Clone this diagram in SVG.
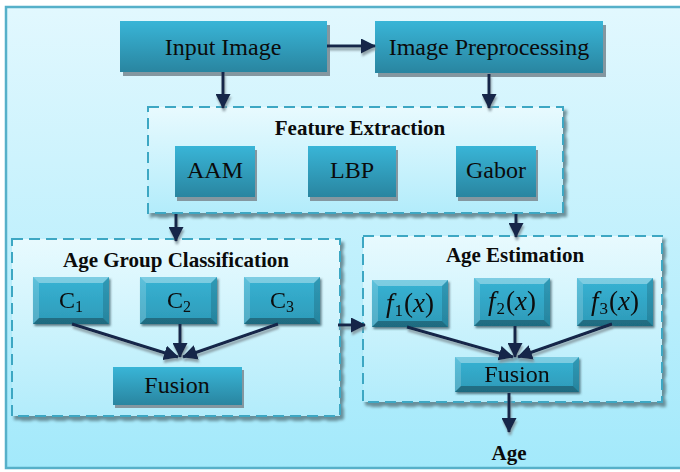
<svg xmlns="http://www.w3.org/2000/svg" width="680" height="472" viewBox="0 0 680 472">
  <defs>
    <linearGradient id="bgGrad" x1="0" y1="0" x2="0" y2="1">
      <stop offset="0" stop-color="#e2f8fe"/>
      <stop offset="1" stop-color="#a3e9fb"/>
    </linearGradient>
    <linearGradient id="groupGrad" x1="0" y1="0" x2="0" y2="1">
      <stop offset="0" stop-color="#e8fafe"/>
      <stop offset="1" stop-color="#b2ecfb"/>
    </linearGradient>
    <linearGradient id="boxGrad" x1="0" y1="0" x2="0" y2="1">
      <stop offset="0" stop-color="#39b5d7"/>
      <stop offset="1" stop-color="#2985a0"/>
    </linearGradient>
    <linearGradient id="bevelGrad" x1="0" y1="0" x2="0" y2="1">
      <stop offset="0" stop-color="#38b3d4"/>
      <stop offset="1" stop-color="#2d9ab8"/>
    </linearGradient>
    <filter id="groupShadow" x="-5%" y="-5%" width="115%" height="115%">
      <feDropShadow dx="3" dy="4" stdDeviation="1.5" flood-color="#5b7f88" flood-opacity="0.85"/>
    </filter>
    <filter id="bevelShadow" x="-10%" y="-10%" width="125%" height="130%">
      <feDropShadow dx="1.5" dy="2" stdDeviation="1.2" flood-color="#2c4a55" flood-opacity="0.7"/>
    </filter>
    <filter id="lineShadow" x="-20%" y="-20%" width="140%" height="140%">
      <feDropShadow dx="1" dy="3" stdDeviation="0.8" flood-color="#7d8e96" flood-opacity="0.8"/>
    </filter>
    <marker id="arrow" markerUnits="userSpaceOnUse" markerWidth="15" markerHeight="15" viewBox="0 0 15 15" refX="14" refY="7.5" orient="auto">
      <path d="M0,0 L15,7.5 L0,15 z" fill="#13284a"/>
    </marker>
  </defs>
  <style>
    .label { font-family: "Liberation Serif", "Times New Roman", serif; font-size: 24px; fill: #0b0b0b; text-anchor: middle; }
    .math { font-family: "Liberation Serif", "Times New Roman", serif; font-size: 27px; fill: #0b0b0b; text-anchor: middle; }
    .title { font-family: "Liberation Serif", "Times New Roman", serif; font-size: 21px; font-weight: bold; fill: #0b0b0b; text-anchor: middle; }
    .flat { fill: url(#boxGrad); }
    .flatShadow { fill: #8497a0; }
    .group { fill: url(#groupGrad); stroke: #3ea7c3; stroke-width: 2; stroke-dasharray: 11 6; filter: url(#groupShadow); }
    .bevel { fill: url(#bevelGrad); }
    .bt { fill: #ffffff; fill-opacity: 0.35; }
    .bl { fill: #ffffff; fill-opacity: 0.18; }
    .br { fill: #000000; fill-opacity: 0.14; }
    .bb { fill: #000000; fill-opacity: 0.3; }
    .conn { stroke: #13284a; stroke-width: 3; fill: none; marker-end: url(#arrow); }
  </style>

  <!-- background frame -->
  <rect x="0" y="0" width="680" height="472" fill="#ffffff"/>
  <rect x="6" y="7" width="680" height="461" fill="url(#bgGrad)" stroke="#56b0c9" stroke-width="2.5"/>

  <!-- dashed group panels -->
  <g id="feature-extraction">
    <rect class="group" x="148" y="107" width="415" height="106"/>
    <text class="title" x="360" y="135">Feature Extraction</text>
  </g>
  <g id="age-group-classification">
    <rect class="group" x="12" y="239" width="328" height="177"/>
    <text class="title" x="176" y="267">Age Group Classification</text>
  </g>
  <g id="age-estimation">
    <rect class="group" x="363" y="236" width="299" height="166"/>
    <text class="title" x="515" y="262">Age Estimation</text>
  </g>

  <!-- flat boxes -->
  <g id="input-image">
    <rect class="flatShadow" x="123" y="25" width="207" height="51"/>
    <rect class="flat" x="120" y="21" width="207" height="51"/>
    <text class="label" x="223" y="55">Input Image</text>
  </g>
  <g id="image-preprocessing">
    <rect class="flatShadow" x="378" y="25" width="228" height="52"/>
    <rect class="flat" x="375" y="21" width="228" height="52"/>
    <text class="label" x="489" y="55">Image Preprocessing</text>
  </g>
  <g id="aam">
    <rect class="flatShadow" x="177" y="150" width="80" height="51"/>
    <rect class="flat" x="175" y="146" width="80" height="51"/>
    <text class="label" x="215" y="178">AAM</text>
  </g>
  <g id="lbp">
    <rect class="flatShadow" x="310" y="150" width="88" height="51"/>
    <rect class="flat" x="308" y="146" width="88" height="51"/>
    <text class="label" x="352" y="178">LBP</text>
  </g>
  <g id="gabor">
    <rect class="flatShadow" x="458" y="150" width="80" height="51"/>
    <rect class="flat" x="456" y="146" width="80" height="51"/>
    <text class="label" x="496" y="178">Gabor</text>
  </g>
  <g id="fusion-left">
    <rect class="flatShadow" x="115" y="370" width="129" height="38"/>
    <rect class="flat" x="113" y="367" width="129" height="38"/>
    <text class="label" x="177" y="393">Fusion</text>
  </g>

  <!-- bevelled boxes -->
  <g id="c1" filter="url(#bevelShadow)">
    <rect class="bevel" x="33" y="277" width="76" height="47"/>
    <polygon class="bt" points="33,277 109,277 103,283 39,283"/>
    <polygon class="bl" points="33,277 39,283 39,318 33,324"/>
    <polygon class="br" points="109,277 109,324 103,318 103,283"/>
    <polygon class="bb" points="33,324 39,318 103,318 109,324"/>
    <text class="label" x="71" y="308">C<tspan font-size="16" dy="4">1</tspan></text>
  </g>
  <g id="c2" filter="url(#bevelShadow)">
    <rect class="bevel" x="140" y="277" width="77" height="47"/>
    <polygon class="bt" points="140,277 217,277 211,283 146,283"/>
    <polygon class="bl" points="140,277 146,283 146,318 140,324"/>
    <polygon class="br" points="217,277 217,324 211,318 211,283"/>
    <polygon class="bb" points="140,324 146,318 211,318 217,324"/>
    <text class="label" x="179" y="308">C<tspan font-size="16" dy="4">2</tspan></text>
  </g>
  <g id="c3" filter="url(#bevelShadow)">
    <rect class="bevel" x="244" y="277" width="76" height="47"/>
    <polygon class="bt" points="244,277 320,277 314,283 250,283"/>
    <polygon class="bl" points="244,277 250,283 250,318 244,324"/>
    <polygon class="br" points="320,277 320,324 314,318 314,283"/>
    <polygon class="bb" points="244,324 250,318 314,318 320,324"/>
    <text class="label" x="282" y="308">C<tspan font-size="16" dy="4">3</tspan></text>
  </g>
  <g id="f1" filter="url(#bevelShadow)">
    <rect class="bevel" x="372" y="280" width="76" height="47"/>
    <polygon class="bt" points="372,280 448,280 442,286 378,286"/>
    <polygon class="bl" points="372,280 378,286 378,321 372,327"/>
    <polygon class="br" points="448,280 448,327 442,321 442,286"/>
    <polygon class="bb" points="372,327 378,321 442,321 448,327"/>
    <text class="math" x="410" y="312"><tspan font-style="italic">f</tspan><tspan font-size="17" dy="4" dx="1">1</tspan><tspan dy="-4" dx="1">(</tspan><tspan font-style="italic">x</tspan>)</text>
  </g>
  <g id="f2" filter="url(#bevelShadow)">
    <rect class="bevel" x="474" y="278" width="76" height="48"/>
    <polygon class="bt" points="474,278 550,278 544,284 480,284"/>
    <polygon class="bl" points="474,278 480,284 480,320 474,326"/>
    <polygon class="br" points="550,278 550,326 544,320 544,284"/>
    <polygon class="bb" points="474,326 480,320 544,320 550,326"/>
    <text class="math" x="512" y="310"><tspan font-style="italic">f</tspan><tspan font-size="17" dy="4" dx="1">2</tspan><tspan dy="-4" dx="1">(</tspan><tspan font-style="italic">x</tspan>)</text>
  </g>
  <g id="f3" filter="url(#bevelShadow)">
    <rect class="bevel" x="577" y="278" width="76" height="48"/>
    <polygon class="bt" points="577,278 653,278 647,284 583,284"/>
    <polygon class="bl" points="577,278 583,284 583,320 577,326"/>
    <polygon class="br" points="653,278 653,326 647,320 647,284"/>
    <polygon class="bb" points="577,326 583,320 647,320 653,326"/>
    <text class="math" x="615" y="310"><tspan font-style="italic">f</tspan><tspan font-size="17" dy="4" dx="1">3</tspan><tspan dy="-4" dx="1">(</tspan><tspan font-style="italic">x</tspan>)</text>
  </g>
  <g id="fusion-right" filter="url(#bevelShadow)">
    <rect class="bevel" x="455" y="357" width="124" height="35"/>
    <polygon class="bt" points="455,357 579,357 573,363 461,363"/>
    <polygon class="bl" points="455,357 461,363 461,386 455,392"/>
    <polygon class="br" points="579,357 579,392 573,386 573,363"/>
    <polygon class="bb" points="455,392 461,386 573,386 579,392"/>
    <text class="label" x="517" y="382">Fusion</text>
  </g>

  <!-- output label -->
  <g id="age-output">
    <text class="title" x="509" y="460">Age</text>
  </g>

  <!-- connectors -->
  <g id="connectors" filter="url(#lineShadow)">
    <line class="conn" x1="327" y1="46" x2="375" y2="46"/>
    <line class="conn" x1="223" y1="72" x2="223" y2="108"/>
    <line class="conn" x1="489" y1="74" x2="489" y2="108"/>
    <line class="conn" x1="176" y1="214" x2="176" y2="241"/>
    <line class="conn" x1="516" y1="214" x2="516" y2="237"/>
    <line class="conn" x1="338" y1="325" x2="365" y2="325"/>
    <line class="conn" x1="72" y1="324" x2="178" y2="357"/>
    <line class="conn" x1="180" y1="324" x2="180" y2="357"/>
    <line class="conn" x1="278" y1="324" x2="183" y2="357"/>
    <line class="conn" x1="407" y1="327" x2="513" y2="357"/>
    <line class="conn" x1="515" y1="326" x2="515" y2="357"/>
    <line class="conn" x1="612" y1="324" x2="518" y2="357"/>
    <line class="conn" x1="509" y1="393" x2="509" y2="432"/>
  </g>
</svg>
